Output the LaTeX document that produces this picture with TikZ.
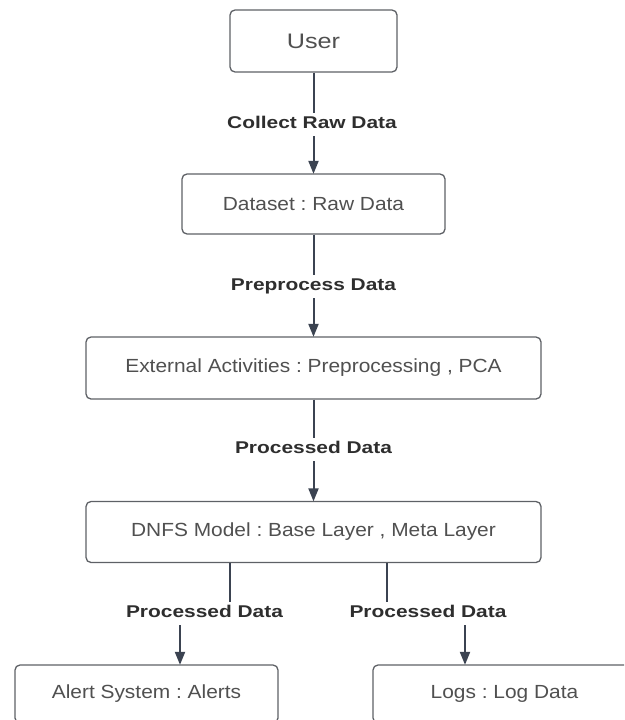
\documentclass[tikz,border=0pt]{standalone}
\usepackage{fontspec}
\usetikzlibrary{arrows.meta}
\newfontfamily\boxfont[FakeStretch=1.1]{Liberation Sans}
\newfontfamily\userfont[FakeStretch=1.2]{Liberation Sans}
\newfontfamily\lblfont[FakeStretch=1.23]{Liberation Sans Bold}
\frenchspacing
\definecolor{edgecol}{HTML}{3B4351}
\definecolor{boxline}{HTML}{5E6166}
\definecolor{boxtext}{HTML}{505050}
\definecolor{lbltext}{HTML}{2E2E2E}
\tikzset{
  stage/.style={draw=boxline, line width=1.3pt, rounded corners=5pt, fill=white,
    inner sep=0pt, text=boxtext, font=\boxfont\fontsize{19}{22}\selectfont},
  flowlabel/.style={anchor=base, inner xsep=2pt, inner ysep=0pt,
    text height=15pt, text depth=8pt, text=lbltext,
    font=\lblfont\fontsize{17}{20}\selectfont},
  conn/.style={draw=edgecol, line width=2pt},
  connarrow/.style={conn, -{Triangle[length=13pt,width=10pt]}, shorten >=-0.5pt},
}
\begin{document}
\begin{tikzpicture}[x=1pt, y=-1pt]
  \useasboundingbox (0,0) rectangle (624,720);
  \begin{scope}
    \clip (0,0) rectangle (624,720);

    % stages of the pipeline
    \node[stage, minimum width=167pt, minimum height=62pt,
          font=\userfont\fontsize{21}{24}\selectfont] (user) at (313.5,41) {User};
    \node[stage, minimum width=263pt, minimum height=60pt] (data) at (313.5,204) {Dataset : Raw Data};
    \node[stage, minimum width=455pt, minimum height=62pt] (ext) at (313.5,368) {External Activities : Preprocessing , PCA};
    \node[stage, minimum width=455pt, minimum height=61pt] (dnfs) at (313.5,532) {DNFS Model : Base Layer , Meta Layer};
    \node[stage, minimum width=263pt, minimum height=58pt] (alert) at (146.5,694) {Alert System : Alerts};
    \node[stage, minimum width=263pt, minimum height=58pt] (logs) at (504.5,694) {Logs : Log Data};

    % flow labels
    \node[flowlabel] (l1) at (312,128) {Collect Raw Data};
    \node[flowlabel] (l2) at (313.5,290) {Preprocess Data};
    \node[flowlabel] (l3) at (313.5,453) {Processed Data};
    \node[flowlabel] (l4) at (204.5,617) {Processed Data};
    \node[flowlabel] (l5) at (428,617) {Processed Data};

    % main chain
    \draw[conn] (user.south) -- (user.south |- l1.north);
    \draw[connarrow] (data.north |- l1.south) -- (data.north);
    \draw[conn] (data.south) -- (data.south |- l2.north);
    \draw[connarrow] (ext.north |- l2.south) -- (ext.north);
    \draw[conn] (ext.south) -- (ext.south |- l3.north);
    \draw[connarrow] (dnfs.north |- l3.south) -- (dnfs.north);

    % branches to alerts and logs
    \draw[conn] ([xshift=-83.5pt]dnfs.south) -- ([xshift=25.5pt]l4.north);
    \draw[connarrow] ([xshift=-24.5pt]l4.south) -- ([xshift=33.5pt]alert.north);
    \draw[conn] ([xshift=73.5pt]dnfs.south) -- ([xshift=-41pt]l5.north);
    \draw[connarrow] ([xshift=37pt]l5.south) -- ([xshift=-39.5pt]logs.north);
  \end{scope}
\end{tikzpicture}
\end{document}
